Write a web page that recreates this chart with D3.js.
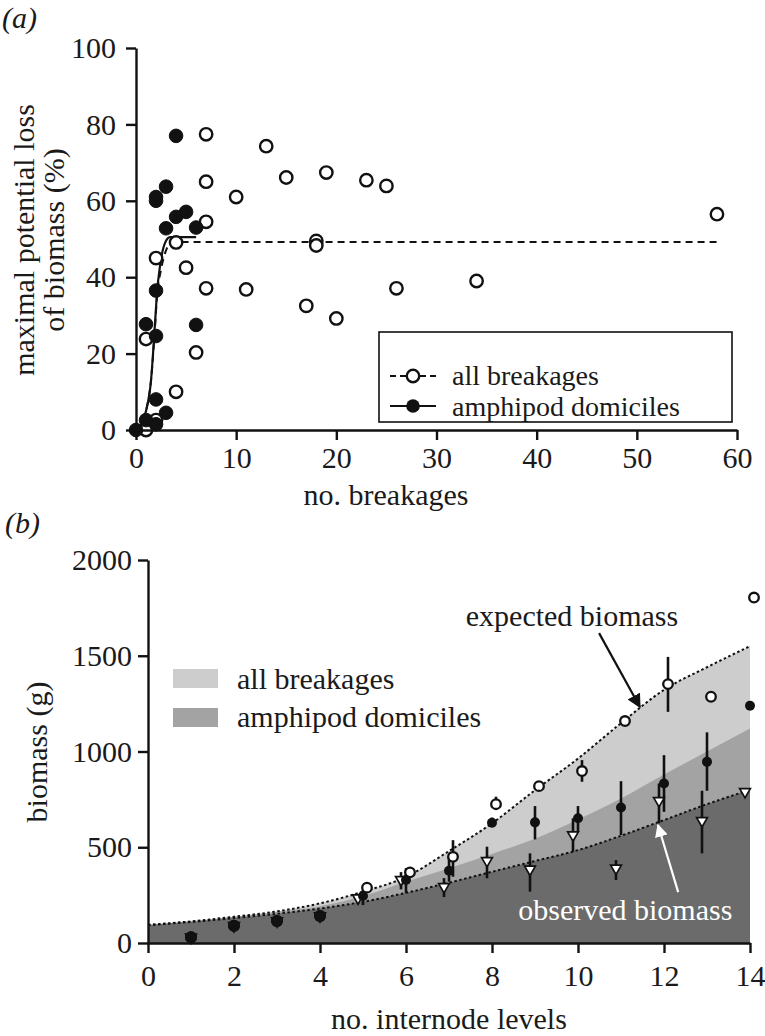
<!DOCTYPE html>
<html><head><meta charset="utf-8">
<script src="https://cdn.jsdelivr.net/npm/d3@7"></script>
<style>
html,body{margin:0;padding:0;background:#fff;}
svg text{font-family:"Liberation Serif","Times New Roman",Times,serif;fill:#1a1a1a;}
</style></head>
<body>
<svg id="chart" width="765" height="1036"></svg>
<script>
// ---------- Panel (a) data ----------
const allBreakX = [7,13,15,19,23,7,10,7,4,18,18,2,5,7,11,17,20,1,6,4,2,1,25,58,26,34];
const allBreakY = [77.4,74.3,66.1,67.4,65.4,65,61,54.5,49.1,49.5,48.3,45,42.5,37.1,36.8,32.5,29.2,23.8,20.3,10,2.6,0,63.9,56.5,37.1,39];
const amphX = [4,3,2,2,5,4,3,6,2,1,2,6,2,3,0,1,2];
const amphY = [77,63.7,61,60,57.1,55.8,52.8,53,36.5,27.7,24.6,27.5,8,4.5,0,2.6,1.5];
const fitAllX = [0,0.5,1,1.5,1.9,2.1,2.5,3,3.5,4,58];
const fitAllY = [0,1.5,5,13,27,35,42,47,49,49.2,49.2];
const fitAmphX = [0,0.5,1,1.5,1.9,2.1,2.4,2.9,3.4,6];
const fitAmphY = [0,1.5,5,13,28,36,43,49,50.5,50.5];
const xTicksA = [0,10,20,30,40,50,60];
const yTicksA = [0,20,40,60,80,100];

// ---------- Panel (b) data ----------
const levels = [1,2,3,4,5,6,7,8,9,10,11,12,13,14];
const expectedPts = [30,90,115,141,289,369,450,725,819,898,1159,1352,1286,1804];
const expectedLo  = [null,null,null,null,null,null,346,694,null,842,null,1207,null,null];
const expectedHi  = [null,null,null,null,null,null,537,764,null,955,null,1494,null,null];
const amphPts = [30,90,115,141,245,329,377,628,630,651,708,833,946,1239];
const amphLo  = [null,null,null,null,198,261,320,605,541,581,564,685,795,null];
const amphHi  = [null,null,null,null,277,391,450,655,715,715,845,981,1100,null];
const obsPts = [30,90,115,141,235,330,294,430,385,564,390,743,638,790];
const obsLo  = [null,null,null,null,null,280,240,338,268,477,329,625,468,null];
const obsHi  = [null,null,null,null,null,370,339,503,468,651,433,833,795,null];
const curveX = [0,1,2,3,4,5,6,7,8,9,10,11,12,13,14];
const expectedLine = [94,113,137,165,207,268,345,480,625,798,963,1148,1322,1440,1550];
const amphLine     = [94,113,137,163,192,245,320,390,465,545,645,755,880,1000,1120];
const observedLine = [94,110,130,153,180,215,262,315,372,428,485,560,642,725,800];
const xTicksB = [0,2,4,6,8,10,12,14];
const yTicksB = [0,500,1000,1500,2000];

const svg = d3.select("#chart");
const FS = 30;
const FONT = '"Liberation Serif","Times New Roman",Times,serif';

function styleAxis(ax){
  ax.attr("font-family",FONT).attr("font-size",FS);
  ax.selectAll("path,line").attr("stroke","#111").attr("stroke-width",2.4);
  ax.selectAll("text").attr("font-size",FS).attr("fill","#1a1a1a");
}

// ================= Panel (a) =================
const xA = d3.scaleLinear().domain([0,60]).range([136,737]);
const yA = d3.scaleLinear().domain([0,100]).range([430,48]);
const gA = svg.append("g");

const lineA = d3.line().x(d=>xA(d[0])).y(d=>yA(d[1])).curve(d3.curveMonotoneX);
gA.append("path").datum(fitAllX.map((x,i)=>[x,fitAllY[i]]))
  .attr("d",lineA).attr("fill","none").attr("stroke","#111").attr("stroke-width",2).attr("stroke-dasharray","7,5");
gA.append("path").datum(fitAmphX.map((x,i)=>[x,fitAmphY[i]]))
  .attr("d",lineA).attr("fill","none").attr("stroke","#111").attr("stroke-width",2.2);

gA.append("g").selectAll("circle").data(allBreakX.map((x,i)=>[x,allBreakY[i]])).join("circle")
  .attr("cx",d=>xA(d[0])).attr("cy",d=>yA(d[1])).attr("r",6.2)
  .attr("fill","#fff").attr("stroke","#111").attr("stroke-width",2.4);
gA.append("g").selectAll("circle").data(amphX.map((x,i)=>[x,amphY[i]])).join("circle")
  .attr("cx",d=>xA(d[0])).attr("cy",d=>yA(d[1])).attr("r",6.8)
  .attr("fill","#111").attr("stroke","#111").attr("stroke-width",1);

const axA_x = gA.append("g").attr("transform","translate(0,430)")
  .call(d3.axisBottom(xA).tickValues(xTicksA).tickSize(10).tickSizeOuter(0).tickPadding(7));
const axA_y = gA.append("g").attr("transform","translate(136,0)")
  .call(d3.axisLeft(yA).tickValues(yTicksA).tickSize(10).tickSizeOuter(0).tickPadding(10));
styleAxis(axA_x); styleAxis(axA_y);

gA.append("text").attr("x",2).attr("y",28).attr("font-size",FS).attr("font-style","italic").text("(a)");
gA.append("text").attr("x",386).attr("y",505).attr("text-anchor","middle").attr("font-size",FS).text("no. breakages");
gA.append("text").attr("transform","translate(34,240) rotate(-90)").attr("text-anchor","middle").attr("font-size",FS).text("maximal potential loss");
gA.append("text").attr("transform","translate(64,240) rotate(-90)").attr("text-anchor","middle").attr("font-size",FS).text("of biomass (%)");

// legend (a)
const LFS = 28;
const lgA = gA.append("g");
lgA.append("rect").attr("x",379).attr("y",332).attr("width",353).attr("height",90)
  .attr("fill","#fff").attr("stroke","#111").attr("stroke-width",1.6);
lgA.append("line").attr("x1",390).attr("x2",436).attr("y1",376).attr("y2",376).attr("stroke","#111").attr("stroke-width",2).attr("stroke-dasharray","6,4");
lgA.append("circle").attr("cx",413).attr("cy",376).attr("r",6.2).attr("fill","#fff").attr("stroke","#111").attr("stroke-width",2.4);
lgA.append("text").attr("x",452).attr("y",385).attr("font-size",LFS).text("all breakages");
lgA.append("line").attr("x1",390).attr("x2",436).attr("y1",406).attr("y2",406).attr("stroke","#111").attr("stroke-width",2.2);
lgA.append("circle").attr("cx",413).attr("cy",406).attr("r",6.8).attr("fill","#111");
lgA.append("text").attr("x",452).attr("y",416).attr("font-size",LFS).text("amphipod domiciles");

// ================= Panel (b) =================
const xB = d3.scaleLinear().domain([0,14]).range([148,750]);
const yB = d3.scaleLinear().domain([0,2000]).range([943,560]);
const gB = svg.append("g");

const areaB = ys => d3.area().x((d,i)=>xB(curveX[i])).y0(yB(0)).y1((d,i)=>yB(ys[i])).curve(d3.curveMonotoneX)(ys);
gB.append("path").attr("d",areaB(expectedLine)).attr("fill","#cdcdcd");
gB.append("path").attr("d",areaB(amphLine)).attr("fill","#a3a3a3");
gB.append("path").attr("d",areaB(observedLine)).attr("fill","#6b6b6b");

const lineB = ys => d3.line().x((d,i)=>xB(curveX[i])).y((d,i)=>yB(ys[i])).curve(d3.curveMonotoneX)(ys);
[expectedLine, observedLine].forEach(ys=>{
  gB.append("path").attr("d",lineB(ys)).attr("fill","none").attr("stroke","#111").attr("stroke-width",2).attr("stroke-dasharray","2.5,2.5");
});

const dod = (x,dx)=> x>=5 ? dx : 0;
const series = [
  {pts:expectedPts, lo:expectedLo, hi:expectedHi, dx:4},
  {pts:obsPts, lo:obsLo, hi:obsHi, dx:-5},
  {pts:amphPts, lo:amphLo, hi:amphHi, dx:0}
];
series.forEach(s=>{
  gB.append("g").selectAll("line").data(levels.map((x,i)=>({x, lo:s.lo[i], hi:s.hi[i]})).filter(d=>d.lo!==null))
    .join("line")
    .attr("x1",d=>xB(d.x)+dod(d.x,s.dx)).attr("x2",d=>xB(d.x)+dod(d.x,s.dx))
    .attr("y1",d=>yB(d.lo)).attr("y2",d=>yB(d.hi))
    .attr("stroke","#111").attr("stroke-width",2.6);
});
gB.append("g").selectAll("circle").data(levels.map((x,i)=>[x,expectedPts[i]])).join("circle")
  .attr("cx",d=>xB(d[0])+dod(d[0],4)).attr("cy",d=>yB(d[1])).attr("r",4.8)
  .attr("fill","#fff").attr("stroke","#111").attr("stroke-width",2.3);
const tri = d3.symbol().type(d3.symbolTriangle).size(50);
gB.append("g").selectAll("path").data(levels.map((x,i)=>[x,obsPts[i]])).join("path")
  .attr("d",tri)
  .attr("transform",d=>`translate(${xB(d[0])+dod(d[0],-5)},${yB(d[1])}) rotate(180)`)
  .attr("fill","#fff").attr("stroke","#111").attr("stroke-width",1.7);
gB.append("g").selectAll("circle").data(levels.map((x,i)=>[x,amphPts[i]])).join("circle")
  .attr("cx",d=>xB(d[0])).attr("cy",d=>yB(d[1])).attr("r",d=>d[0]<5?6:5)
  .attr("fill","#111");

const axB_x = gB.append("g").attr("transform","translate(0,943)")
  .call(d3.axisBottom(xB).tickValues(xTicksB).tickSize(10).tickSizeOuter(0).tickPadding(12));
const axB_y = gB.append("g").attr("transform","translate(148,0)")
  .call(d3.axisLeft(yB).tickValues(yTicksB).tickFormat(d3.format("d")).tickSize(10).tickSizeOuter(0).tickPadding(6));
styleAxis(axB_x); styleAxis(axB_y);

gB.append("text").attr("x",5).attr("y",533).attr("font-size",FS).attr("font-style","italic").text("(b)");
gB.append("text").attr("x",449).attr("y",1029).attr("text-anchor","middle").attr("font-size",FS).text("no. internode levels");
gB.append("text").attr("transform","translate(47,752) rotate(-90)").attr("text-anchor","middle").attr("font-size",FS).text("biomass (g)");

// legend (b)
const lgB = gB.append("g");
lgB.append("rect").attr("x",173).attr("y",669).attr("width",45).attr("height",19).attr("fill","#cdcdcd");
lgB.append("text").attr("x",237).attr("y",689).attr("font-size",FS).text("all breakages");
lgB.append("rect").attr("x",173).attr("y",708).attr("width",45).attr("height",19).attr("fill","#a3a3a3");
lgB.append("text").attr("x",237).attr("y",727).attr("font-size",FS).text("amphipod domiciles");

// annotations (data coords)
const annExpected = {tx:9.86, ty:1654, ax1:10.49, ay1:1618, ax2:11.44, ay2:1232};
const annObserved = {tx:11.1, ty:118, ax1:12.33, ay1:266, ax2:11.86, ay2:616};
const defs = svg.append("defs");
defs.append("marker").attr("id","ahB").attr("viewBox","0 0 10 10").attr("refX",9).attr("refY",5)
  .attr("markerWidth",14).attr("markerHeight",14).attr("markerUnits","userSpaceOnUse").attr("orient","auto")
  .append("path").attr("d","M0,0 L10,5 L0,10 z").attr("fill","#111");
defs.append("marker").attr("id","ahW").attr("viewBox","0 0 10 10").attr("refX",9).attr("refY",5)
  .attr("markerWidth",13).attr("markerHeight",13).attr("markerUnits","userSpaceOnUse").attr("orient","auto")
  .append("path").attr("d","M0,0 L10,5 L0,10 z").attr("fill","#fff");

gB.append("text").attr("x",xB(annExpected.tx)).attr("y",yB(annExpected.ty)).attr("text-anchor","middle").attr("font-size",FS).text("expected biomass");
gB.append("line").attr("x1",xB(annExpected.ax1)).attr("y1",yB(annExpected.ay1)).attr("x2",xB(annExpected.ax2)).attr("y2",yB(annExpected.ay2))
  .attr("stroke","#111").attr("stroke-width",2.2).attr("marker-end","url(#ahB)");
gB.append("text").attr("x",xB(annObserved.tx)).attr("y",yB(annObserved.ty)).attr("text-anchor","middle").attr("font-size",FS).style("fill","#fff").text("observed biomass");
gB.append("line").attr("x1",xB(annObserved.ax1)).attr("y1",yB(annObserved.ay1)).attr("x2",xB(annObserved.ax2)).attr("y2",yB(annObserved.ay2))
  .attr("stroke","#fff").attr("stroke-width",2.2).attr("marker-end","url(#ahW)");
</script>
</body></html>
